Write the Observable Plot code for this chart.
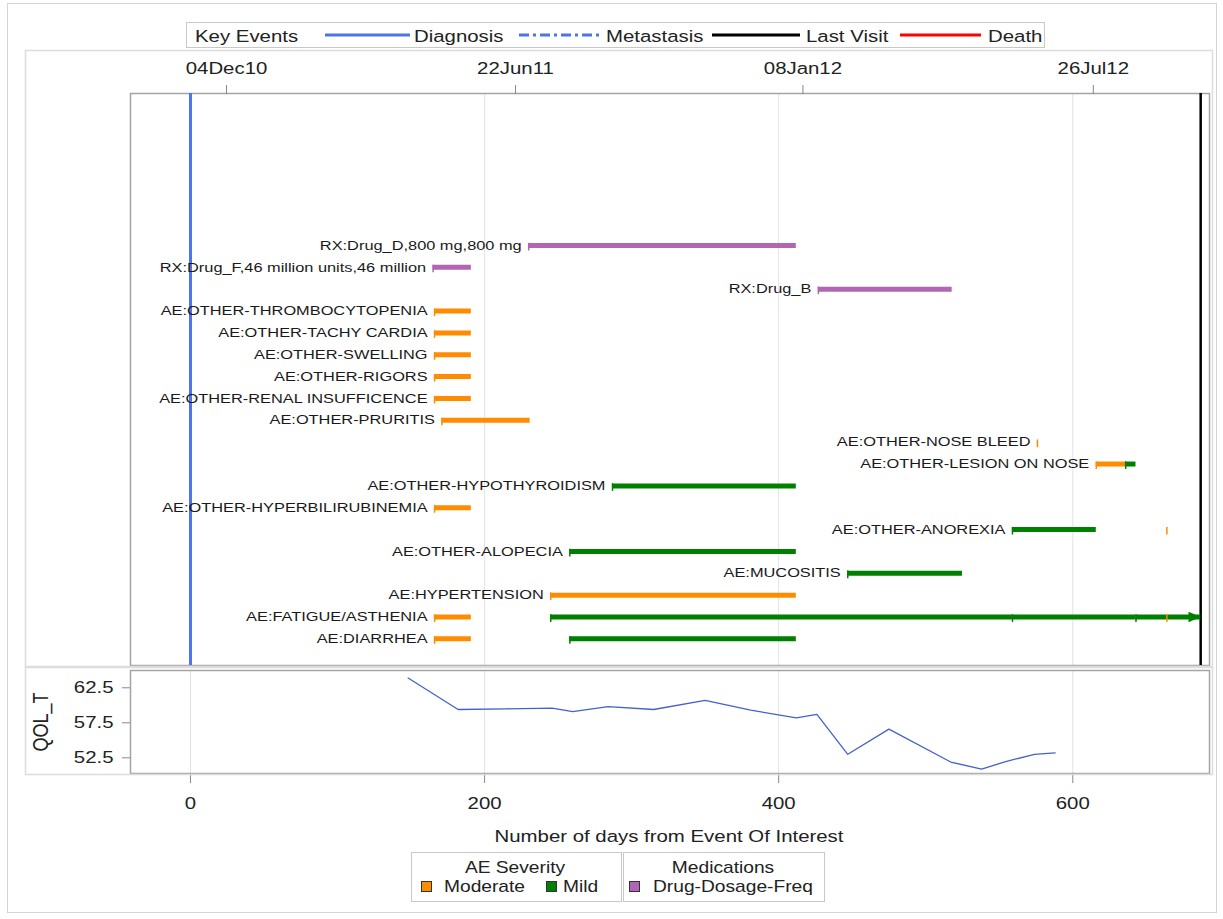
<!DOCTYPE html>
<html><head><meta charset="utf-8">
<script src="https://cdn.jsdelivr.net/npm/d3@7"></script>
<script src="https://cdn.jsdelivr.net/npm/@observablehq/plot@0.6"></script>
<style>
body{margin:0;background:#fff;}
#root{position:relative;width:1223px;height:919px;font-family:"Liberation Sans",Arial,sans-serif;}
#main,#qol{position:absolute;left:0;width:1223px;}
#deco{position:absolute;left:0;top:0;pointer-events:none;}
</style></head><body>
<div id="root">
  <div id="main" style="top:0"></div>
  <div id="qol" style="top:667px"></div>
  <svg id="deco" width="1223" height="919" font-family="Liberation Sans, Arial, sans-serif" fill="#222" font-size="17">
    <rect x="7.5" y="3.5" width="1209" height="909" fill="none" stroke="#d4d4d4"/>
    <rect x="25.5" y="50.5" width="1187" height="616" fill="none" stroke="#dcdcdc" stroke-width="1.5"/>
    <rect x="25.5" y="667.5" width="1187" height="107" fill="none" stroke="#dcdcdc" stroke-width="1.5"/>
    <rect x="186.5" y="22.5" width="858" height="25" fill="#fff" stroke="#c8c8c8"/>
    <text x="195" y="42">Key Events</text>
    <line x1="325" x2="410" y1="35" y2="35" stroke="#4d74ea" stroke-width="3"/>
    <text x="414" y="42">Diagnosis</text>
    <line x1="519" x2="600" y1="35" y2="35" stroke="#4d74ea" stroke-width="3" stroke-dasharray="10,4,3,4"/>
    <text x="606" y="42">Metastasis</text>
    <line x1="712" x2="800" y1="35" y2="35" stroke="#000" stroke-width="3"/>
    <text x="806" y="42">Last Visit</text>
    <line x1="900" x2="981" y1="35" y2="35" stroke="#f00" stroke-width="3"/>
    <text x="988" y="42">Death</text>
    <text x="669" y="842" text-anchor="middle">Number of days from Event Of Interest</text>
    <rect x="411.5" y="852.5" width="210" height="49" fill="none" stroke="#c8c8c8"/>
    <rect x="623.5" y="852.5" width="201" height="49" fill="none" stroke="#c8c8c8"/>
    <text x="515" y="873" text-anchor="middle" font-size="16">AE Severity</text>
    <rect x="421.5" y="881.5" width="10" height="10" fill="#FF8C00" stroke="#333"/>
    <text x="444" y="892" font-size="16">Moderate</text>
    <rect x="546.5" y="881.5" width="10" height="10" fill="#008000" stroke="#333"/>
    <text x="563" y="892" font-size="16">Mild</text>
    <text x="723" y="873" text-anchor="middle" font-size="16">Medications</text>
    <rect x="629.5" y="881.5" width="10" height="10" fill="#B266B2" stroke="#333"/>
    <text x="653" y="892" font-size="16">Drug-Dosage-Freq</text>
  </svg>
</div>
<script>
// ---------- data ----------
const rowTerms = [
  "RX:Drug_D,800 mg,800 mg",
  "RX:Drug_F,46 million units,46 million",
  "RX:Drug_B",
  "AE:OTHER-THROMBOCYTOPENIA",
  "AE:OTHER-TACHY CARDIA",
  "AE:OTHER-SWELLING",
  "AE:OTHER-RIGORS",
  "AE:OTHER-RENAL INSUFFICENCE",
  "AE:OTHER-PRURITIS",
  "AE:OTHER-NOSE BLEED",
  "AE:OTHER-LESION ON NOSE",
  "AE:OTHER-HYPOTHYROIDISM",
  "AE:OTHER-HYPERBILIRUBINEMIA",
  "AE:OTHER-ANOREXIA",
  "AE:OTHER-ALOPECIA",
  "AE:MUCOSITIS",
  "AE:HYPERTENSION",
  "AE:FATIGUE/ASTHENIA",
  "AE:DIARRHEA"
];
// segments: row index, start day, end day, type
const segRow   = [0,   1,   2,   3,   4,   5,   6,   7,   8,   9,   10,  10,  11,  12,  13,  13,  14,  15,  16,  17,  17,  17,  17,  17,  18,  18];
const segStart = [230, 165, 427, 166, 166, 166, 166, 166, 171, 576, 616, 636, 287, 166, 559, 664, 258, 447, 245, 166, 245, 559, 643, 664, 166, 258];
const segEnd   = [412, 191, 518, 191, 191, 191, 191, 191, 231, 576, 636, 643, 412, 191, 616, 664, 412, 525, 412, 191, 559, 643, 687, 664, 191, 412];
const segType  = ["Drug-Dosage-Freq","Drug-Dosage-Freq","Drug-Dosage-Freq",
  "Moderate","Moderate","Moderate","Moderate","Moderate","Moderate","Moderate",
  "Moderate","Mild","Mild","Moderate","Mild","Moderate","Mild","Mild","Moderate",
  "Moderate","Mild","Mild","Mild","Moderate","Moderate","Mild"];
const typeDomain = ["Moderate", "Mild", "Drug-Dosage-Freq"];
const typeColors = ["#FF8C00", "#008000", "#B266B2"];
const arrowRows = [17];
const arrowDays = [687];
const arrowTypes = ["Mild"];
const diagnosisDay = 0;
const lastVisitDay = 687;
const gridDays = [0, 200, 400, 600];
const topTickDays = [24.5, 221, 416.5, 614];
const topTickLabels = ["04Dec10", "22Jun11", "08Jan12", "26Jul12"];
const qolDay = [148, 182, 215, 246, 260, 284, 315, 350, 381, 412, 426, 447, 475, 517, 538, 555, 574, 588];
const qolVal = [63.9, 59.4, 59.5, 59.6, 59.1, 59.8, 59.4, 60.7, 59.3, 58.2, 58.7, 53.0, 56.6, 51.9, 50.9, 52.0, 53.0, 53.2];
const qolTicks = [52.5, 57.5, 62.5];
const qolLabel = ["QOL_T"];

// ---------- build ----------
const segs = segRow.map((r, i) => ({row: r, start: segStart[i], end: segEnd[i], type: segType[i]}));
const labels = rowTerms.map((t, r) => ({row: r, text: t, x: d3.min(segs.filter(s => s.row === r), s => s.start)}));
const arrows = arrowRows.map((r, i) => ({row: r, day: arrowDays[i], type: arrowTypes[i]}));
const qol = qolDay.map((d, i) => ({day: d, val: qolVal[i]}));

const triRight = {draw(ctx, size) {
  const r = Math.sqrt(size / Math.PI);
  ctx.moveTo(r * 1.5, 0);
  ctx.lineTo(-r * 1.2, -r * 1.15);
  ctx.lineTo(-r * 1.2, r * 1.15);
  ctx.closePath();
}};

const xDomain = [-40.8, 693];
const font = "Liberation Sans, Arial, sans-serif";

const mainPlot = Plot.plot({
  width: 1223, height: 667, marginTop: 93, marginBottom: 2, marginLeft: 130, marginRight: 14,
  x: {domain: xDomain},
  y: {domain: [-6.956, 19.22], reverse: true, axis: null},
  color: {domain: typeDomain, range: typeColors},
  style: {fontFamily: font, fontSize: "17px", color: "#222", background: "transparent", overflow: "visible"},
  marks: [
    Plot.gridX(gridDays, {stroke: "#e2e2ea", strokeOpacity: 1}),
    Plot.frame({stroke: "#a4a4a4", strokeWidth: 1.5}),
    Plot.ruleX([diagnosisDay], {stroke: "#4d74ea", strokeWidth: 3}),
    Plot.ruleX([lastVisitDay], {stroke: "#000", strokeWidth: 2.5}),
    Plot.ruleY(segs.filter(d => d.end > d.start), {y: "row", x1: "start", x2: "end", stroke: "type", strokeWidth: 5}),
    Plot.ruleX(segs, {x: "start", y1: d => d.row - 0.1, y2: d => d.row + 0.25, stroke: "type", strokeWidth: 1.5}),
    Plot.dot(arrows, {x: "day", y: "row", fill: "type", symbol: triRight, r: 4.5, dx: -6.75}),
    Plot.text(labels, {x: "x", y: "row", text: "text", textAnchor: "end", dx: -7, fontSize: 13, fill: "#1a1a1a"}),
    Plot.axisX(topTickDays, {anchor: "top", tickSize: 9, tickPadding: 11, label: null,
      tickFormat: d => topTickLabels[topTickDays.indexOf(d)], stroke: "#888", fill: "#222", fontSize: 17})
  ]
});
document.getElementById("main").append(mainPlot);

const qolPlot = Plot.plot({
  width: 1223, height: 150, marginTop: 3, marginBottom: 44, marginLeft: 130, marginRight: 14,
  x: {domain: xDomain},
  y: {domain: [50.26, 64.97]},
  style: {fontFamily: font, fontSize: "17px", color: "#222", background: "transparent", overflow: "visible"},
  marks: [
    Plot.gridX(gridDays, {stroke: "#e2e2ea", strokeOpacity: 1}),
    Plot.frame({stroke: "#a4a4a4", strokeWidth: 1.5}),
    Plot.line(qol, {x: "day", y: "val", stroke: "#4462c8", strokeWidth: 1.3}),
    Plot.axisY(qolTicks, {tickSize: 8, tickPadding: 9, tickFormat: d => d.toFixed(1), stroke: "#888", fill: "#222", fontSize: 17, label: null}),
    Plot.text(qolLabel, {text: d => d, frameAnchor: "left", textAnchor: "middle", rotate: -90, dx: -89, fontSize: 18, fill: "#222"}),
    Plot.axisX(gridDays, {tickSize: 10, tickPadding: 13, stroke: "#888", fill: "#222", fontSize: 17, label: null})
  ]
});
document.getElementById("qol").append(qolPlot);

// horizontal text stretch to match the reference rendering
function stretch(nodes, s) {
  nodes.forEach(el => {
    const t = el.getAttribute("transform");
    if (t && /^translate\(/.test(t)) {
      const k = t.indexOf(")") + 1;
      el.setAttribute("transform", t.slice(0, k) + ` scale(${s},1)` + t.slice(k));
    } else {
      const x = parseFloat(el.getAttribute("x")) || 0;
      el.setAttribute("transform", `translate(${x},0) scale(${s},1) translate(${-x},0)` + (t ? " " + t : ""));
    }
  });
}
const rowLabelNodes = Array.from(mainPlot.querySelectorAll('g[aria-label="text"] text'));
stretch(rowLabelNodes, 1.26);
stretch(Array.from(mainPlot.querySelectorAll("text")).filter(n => !rowLabelNodes.includes(n)), 1.2);
stretch(Array.from(qolPlot.querySelectorAll("text")), 1.2);
stretch(Array.from(document.querySelectorAll("#deco text")), 1.2);
</script>
</body></html>
